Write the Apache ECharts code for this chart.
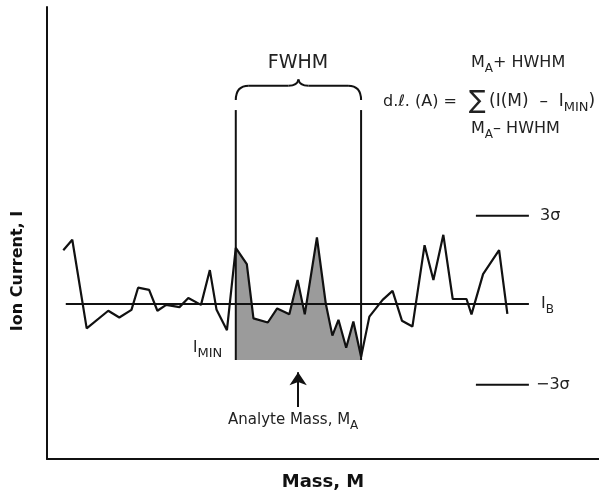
<!DOCTYPE html>
<html>
<head>
<meta charset="utf-8">
<script src="https://cdn.jsdelivr.net/npm/echarts@6/dist/echarts.min.js"></script>
<style>html,body{margin:0;padding:0;background:#fff}#c{width:599px;height:491px}</style>
</head>
<body>
<div id="c"></div>
<script>
// ---- data (arbitrary units) ----
const massValues = [2.95,4.58,7.19,11.1,13.1,15.3,16.5,18.5,20.0,21.6,24.0,25.6,27.9,29.5,30.7,32.6,34.2,36.2,37.4,40.0,41.7,43.9,45.4,46.7,48.9,50.5,51.7,52.8,54.2,55.5,56.9,58.4,60.8,62.6,64.3,66.2,68.4,70.0,71.8,73.5,76.0,76.9,79.0,81.9,83.4];
const ionCurrent = [46.2,48.5,28.9,32.8,31.3,33.0,37.9,37.4,32.8,34.1,33.6,35.6,34.1,41.8,33.1,28.5,46.7,43.1,31.1,30.2,33.3,32.0,39.6,32.0,49.0,34.4,27.3,30.8,24.6,30.4,22.6,31.5,35.2,37.2,30.6,29.3,47.3,39.6,49.6,35.4,35.4,32.0,40.9,46.2,32.1];
const baselineIB = 34.3;
const iMin = 21.9;
const sigmaPlus3 = 53.8;
const sigmaMinus3 = 16.4;
const fwhmLeft = 34.2;
const fwhmRight = 56.9;
const fwhmTop = 77.2;
const analyteMass = 45.5;
const arrowRange = [11.5, 19.2];
const ibRange = [3.4, 87.3];
const sigmaRange = [77.7, 87.3];
const braceLevels = [79.4, 82.6, 84.0];

const allPts = massValues.map((m, i) => [m, ionCurrent[i]]);
const shadedPts = allPts.filter(p => p[0] >= fwhmLeft && p[0] <= fwhmRight);

const FONT = 'DejaVu Sans';
const chart = echarts.init(document.getElementById('c'), null, {renderer: 'canvas'});

const blackLine = (data, w) => ({
  type: 'line', data: data, symbol: 'none', silent: true, animation: false,
  lineStyle: {color: '#111', width: w || 2}, z: 3
});

chart.setOption({
  animation: false,
  grid: {left: 47, right: 0, top: 7, bottom: 32, outerBoundsMode: 'none', containLabel: false},
  xAxis: {
    type: 'value', min: 0, max: 100,
    axisLine: {show: true, lineStyle: {color: '#111', width: 2}},
    axisTick: {show: false}, axisLabel: {show: false}, splitLine: {show: false},
    name: 'Mass, M', nameLocation: 'middle', nameGap: 14,
    nameTextStyle: {fontFamily: FONT, fontWeight: 'bold', fontSize: 18, color: '#111'}
  },
  yAxis: {
    type: 'value', min: 0, max: 100,
    axisLine: {show: true, lineStyle: {color: '#111', width: 2}},
    axisTick: {show: false}, axisLabel: {show: false}, splitLine: {show: false}
  },
  series: [
    {
      type: 'line', data: shadedPts, symbol: 'none', silent: true,
      lineStyle: {width: 0}, areaStyle: {color: '#9b9b9b', opacity: 1, origin: iMin}, z: 1
    },
    blackLine([[ibRange[0], baselineIB], [ibRange[1], baselineIB]]),
    blackLine([[sigmaRange[0], sigmaPlus3], [sigmaRange[1], sigmaPlus3]]),
    blackLine([[sigmaRange[0], sigmaMinus3], [sigmaRange[1], sigmaMinus3]]),
    blackLine([[fwhmLeft, iMin], [fwhmLeft, fwhmTop]]),
    blackLine([[fwhmRight, iMin], [fwhmRight, fwhmTop]]),
    Object.assign(blackLine(allPts, 2.2), {z: 4}),
    {
      type: 'lines', coordinateSystem: 'cartesian2d', silent: true,
      symbol: ['none', 'arrow'], symbolSize: [9, 13],
      lineStyle: {color: '#111', width: 2, opacity: 1},
      data: [{coords: [[analyteMass, arrowRange[0]], [analyteMass, arrowRange[1]]]}]
    }
  ]
});

// ---- annotations ----
const cv = document.createElement('canvas').getContext('2d');
function txt(t, x, y, font, align) {
  return {type: 'text', x: x, y: y, silent: true,
    style: {text: t, font: font, fill: '#222', align: align || 'left', verticalAlign: 'middle'}};
}
function seq(parts, x, y) {
  const els = [];
  let cx = x;
  parts.forEach(p => {
    const size = p.size || 16;
    const font = size + 'px "' + FONT + '"';
    cv.font = font;
    els.push(txt(p.t, cx, y + (p.dy || 0), font));
    cx += cv.measureText(p.t).width;
  });
  return els;
}

function drawAnnotations() {
  const px = (x, y) => chart.convertToPixel({gridIndex: 0}, [x, y]);
  const L = px(fwhmLeft, braceLevels[0]);
  const R = px(fwhmRight, braceLevels[0]);
  const yTop = px(fwhmLeft, braceLevels[1])[1];
  const yPeak = px(fwhmLeft, braceLevels[2])[1];
  const mx = (L[0] + R[0]) / 2;
  const st = {fill: null, stroke: '#111', lineWidth: 2};
  const bz = (x1, y1, cx, cy, x2, y2) => ({type: 'bezierCurve', silent: true,
    shape: {x1: x1, y1: y1, cpx1: cx, cpy1: cy, x2: x2, y2: y2}, style: st});
  const ln = (x1, y1, x2, y2) => ({type: 'line', silent: true,
    shape: {x1: x1, y1: y1, x2: x2, y2: y2}, style: st});

  const elements = [
    bz(L[0], L[1], L[0], yTop, L[0] + 13, yTop),
    ln(L[0] + 13, yTop, mx - 10, yTop),
    bz(mx - 10, yTop, mx - 1, yTop, mx, yPeak),
    bz(mx, yPeak, mx + 1, yTop, mx + 10, yTop),
    ln(mx + 10, yTop, R[0] - 13, yTop),
    bz(R[0] - 13, yTop, R[0], yTop, R[0], R[1]),
    txt('FWHM', 298, 63, '19px "' + FONT + '"', 'center'),
    {type: 'text', x: 18, y: 271, rotation: Math.PI / 2, silent: true,
      style: {text: 'Ion Current, I', font: 'bold 16px "' + FONT + '"', fill: '#111', align: 'center', verticalAlign: 'middle'}},
    txt('d.ℓ. (A) =', 383, 102, '16px "' + FONT + '"'),
    txt('∑', 469, 101, '25px "' + FONT + '"'),
    txt('3σ', 540, 216, '16px "' + FONT + '"'),
    txt('−3σ', 536, 385, '16px "' + FONT + '"')
  ];
  elements.push(...seq([{t: 'M'}, {t: 'A', size: 12, dy: 6}, {t: '+ HWHM'}], 471, 63));
  elements.push(...seq([{t: 'M'}, {t: 'A', size: 12, dy: 6}, {t: '– HWHM'}], 471, 129));
  elements.push(...seq([{t: '(I(M)  –  I', size: 17}, {t: 'MIN', size: 13, dy: 6}, {t: ')', size: 17}], 489, 102));
  elements.push(...seq([{t: 'I'}, {t: 'B', size: 12, dy: 6}], 541, 304));
  elements.push(...seq([{t: 'I', size: 15}, {t: 'MIN', size: 13, dy: 6}], 193, 348));
  elements.push(...seq([{t: 'Analyte Mass, M', size: 15}, {t: 'A', size: 12, dy: 6}], 228, 420));
  chart.setOption({graphic: {elements: elements}});
}
drawAnnotations();
</script>
</body>
</html>
